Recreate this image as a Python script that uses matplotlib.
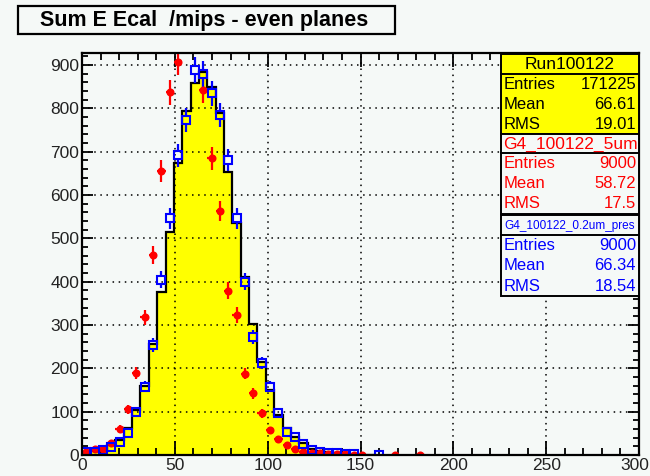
import numpy as np
import matplotlib
matplotlib.use("Agg")
import matplotlib.pyplot as plt
from matplotlib.patches import Rectangle
from matplotlib.ticker import MultipleLocator

plt.rcParams['font.family'] = ['Liberation Sans', 'DejaVu Sans']

# binning: 4.5 units per bin
bin_width = 4.5

# data (Run100122), normalised histogram
data_counts = [6, 9, 14, 22, 35, 62, 104, 160, 256, 377, 515, 673, 795, 859, 885,
               850, 789, 654, 535, 411, 302, 215, 150, 92, 63, 42, 27, 15, 10, 6,
               4, 3, 2, 1, 1]

# G4_100122_0.2um_pres (blue)
blue_counts = [8, 8, 12, 19, 31, 50, 100, 158, 254, 405, 546, 692, 773, 888, 879,
               835, 785, 681, 546, 400, 273, 212, 158, 96, 54, 42, 25, 12, 8, 5,
               4, 3, 3, 0, 0, 1]

# G4_100122_5um (red)
red_counts = [8, 15, 15, 27, 61, 106, 190, 318, 462, 656, 837, 908, 985, 965, 842,
              685, 563, 379, 323, 188, 142, 96, 58, 37, 23, 15, 8, 4, 4, 3,
              2, 2, 1, 1, 0, 0, 0, 1, 0, 0, 1]

x_ticks = [0, 50, 100, 150, 200, 250, 300]
title = "Sum E Ecal  /mips - even planes"
stats = [
    ("Run100122", "black", ["171225", "66.61", "19.01"]),
    ("G4_100122_5um", "red", ["9000", "58.72", "17.5"]),
    ("G4_100122_0.2um_pres", "blue", ["9000", "66.34", "18.54"]),
]

bg = '#f5f9f7'
fig = plt.figure(figsize=(6.5, 4.76), dpi=100, facecolor=bg)
ax = fig.add_axes([82 / 650, 1 - 455 / 476, 557 / 650, 402 / 476])
ax.set_facecolor(bg)
ax.set_xlim(0, 300)
ax.set_ylim(0, 928)

edges = np.arange(len(data_counts) + 1) * bin_width
ax.stairs(data_counts, edges, fill=True, color='#ffff00', zorder=2)
ax.stairs(data_counts, edges, color='black', lw=1.6, zorder=3)

# red: filled circles, full error cross
r = np.array(red_counts, dtype=float)
rx = (np.arange(len(r)) + 0.5) * bin_width
m = r > 0
ax.errorbar(rx[m], r[m], yerr=np.sqrt(r[m]), xerr=bin_width / 2, fmt='o',
            color='red', ms=5.8, mew=0, elinewidth=1.6, capsize=0, zorder=4)

# blue: open squares, error bars stop at the marker edge
b = np.array(blue_counts, dtype=float)
bx = (np.arange(len(b)) + 0.5) * bin_width
m = b > 0
bx, b = bx[m], b[m]
be = np.sqrt(b)
gap = 4.0 * 928 / 402  # marker half size (px) in data units
lo = b - be
hi = b + be
down = lo < b - gap
up = hi > b + gap
ax.vlines(bx[down], lo[down], (b - gap)[down], color='blue', lw=1.6, zorder=4)
ax.vlines(bx[up], (b + gap)[up], hi[up], color='blue', lw=1.6, zorder=4)
ax.plot(bx, b, 's', color='blue', mfc='none', ms=5.8, mew=1.5, zorder=5)

# last x label is drawn by hand so it stays inside the canvas
ax.set_xticks(x_ticks, [str(t) for t in x_ticks[:-1]] + [''])
ax.annotate(str(x_ticks[-1]), xy=(x_ticks[-1], 0), xycoords=('data', 'axes fraction'),
            xytext=(10, -3), textcoords='offset pixels', ha='right', va='top',
            fontsize=12.5, color='#222222')
ax.xaxis.set_minor_locator(MultipleLocator(10))
ax.yaxis.set_major_locator(MultipleLocator(100))
ax.yaxis.set_minor_locator(MultipleLocator(20))
ax.tick_params(which='both', direction='in', top=True, right=True,
               labelsize=12.5, labelcolor='#222222', width=1.3)
ax.tick_params(axis='x', which='major', length=10, pad=2)
ax.tick_params(axis='x', which='minor', length=5)
ax.tick_params(axis='y', which='major', length=8, pad=2)
ax.tick_params(axis='y', which='minor', length=4)
ax.grid(True, which='major', color='black', ls=(0, (1, 3)), lw=1.1, zorder=1)
ax.set_axisbelow(False)
for s in ax.spines.values():
    s.set_linewidth(1.6)
    s.set_zorder(6)

# overlay in pixel coordinates for the title and stat boxes
ov = fig.add_axes([0, 0, 1, 1], zorder=10)
ov.set_xlim(0, 650)
ov.set_ylim(476, 0)
ov.axis('off')
ov.patch.set_alpha(0)

ov.add_patch(Rectangle((18, 6), 377, 28, facecolor=bg, edgecolor='black', lw=1.6))
ov.text(204, 20.5, title, ha='center', va='center', fontsize=15.5, fontweight='bold')

left, right = 501, 639
tops = [54, 134.3, 215]
title_h = [20.3, 19, 20]
bottoms = [133.5, 213.5, 295.7]
for (name, col, vals), top, th, bot in zip(stats, tops, title_h, bottoms):
    face = '#ffff00' if col == 'black' else bg
    ov.add_patch(Rectangle((left, top), right - left, bot - top,
                           facecolor=face, edgecolor='black', lw=1.4))
    ov.plot([left, right], [top + th, top + th], color='black', lw=1.4)
    fs = 8.5 if len(name) > 15 else 12.5
    ov.text((left + right) / 2, top + th / 2 + 0.5, name, ha='center', va='center',
            fontsize=fs, color=col)
    rowh = (bot - top - th) / 3
    for k, (lab, v) in enumerate(zip(["Entries", "Mean", "RMS"], vals)):
        yy = top + th + rowh * (k + 0.5) + 0.5
        ov.text(left + 3, yy, lab, ha='left', va='center', fontsize=12, color=col)
        ov.text(right - 3, yy, v, ha='right', va='center', fontsize=12, color=col)

fig.savefig("out.png", dpi=100, facecolor=bg)
